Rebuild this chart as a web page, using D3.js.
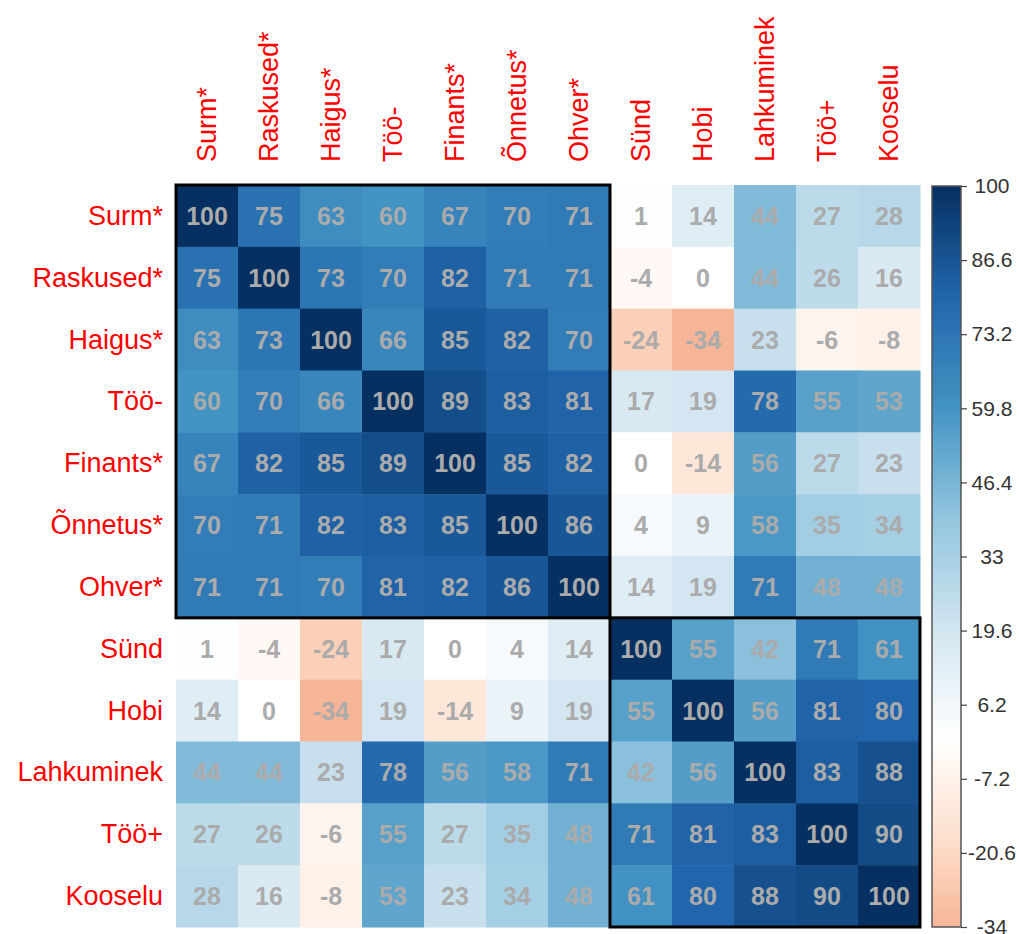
<!DOCTYPE html>
<html>
<head>
<meta charset="utf-8">
<script src="https://cdn.jsdelivr.net/npm/d3@7"></script>
<style>
  html, body { margin: 0; padding: 0; background: #ffffff; }
  svg { display: block; font-family: "Liberation Sans", Arial, Helvetica, sans-serif; }
</style>
</head>
<body>
<svg id="chart" width="1019" height="934"></svg>
<script>
// Variable names (rows and columns share the same order)
const variables = ["Surm*", "Raskused*", "Haigus*", "Töö-", "Finants*", "Õnnetus*",
                   "Ohver*", "Sünd", "Hobi", "Lahkuminek", "Töö+", "Kooselu"];

// Correlation coefficients ×100, one array per row
const rowSurm       = [100, 75, 63, 60, 67, 70, 71,   1,  14,  44,  27,  28];
const rowRaskused   = [ 75,100, 73, 70, 82, 71, 71,  -4,   0,  44,  26,  16];
const rowHaigus     = [ 63, 73,100, 66, 85, 82, 70, -24, -34,  23,  -6,  -8];
const rowTooMinus   = [ 60, 70, 66,100, 89, 83, 81,  17,  19,  78,  55,  53];
const rowFinants    = [ 67, 82, 85, 89,100, 85, 82,   0, -14,  56,  27,  23];
const rowOnnetus    = [ 70, 71, 82, 83, 85,100, 86,   4,   9,  58,  35,  34];
const rowOhver      = [ 71, 71, 70, 81, 82, 86,100,  14,  19,  71,  48,  48];
const rowSund       = [  1, -4,-24, 17,  0,  4, 14, 100,  55,  42,  71,  61];
const rowHobi       = [ 14,  0,-34, 19,-14,  9, 19,  55, 100,  56,  81,  80];
const rowLahkuminek = [ 44, 44, 23, 78, 56, 58, 71,  42,  56, 100,  83,  88];
const rowTooPlus    = [ 27, 26, -6, 55, 27, 35, 48,  71,  81,  83, 100,  90];
const rowKooselu    = [ 28, 16, -8, 53, 23, 34, 48,  61,  80,  88,  90, 100];

const correlations = [rowSurm, rowRaskused, rowHaigus, rowTooMinus, rowFinants, rowOnnetus,
                      rowOhver, rowSund, rowHobi, rowLahkuminek, rowTooPlus, rowKooselu];

// Cluster blocks outlined on the diagonal (first and last variable of each)
const clusters = [["Surm*", "Ohver*"], ["Sünd", "Kooselu"]];

// Colour legend range and tick labels
const legendMin = -34, legendMax = 100;
const legendTicks = [100, 86.6, 73.2, 59.8, 46.4, 33, 19.6, 6.2, -7.2, -20.6, -34];

// Diverging red–blue palette spread over the full -100..100 range
const paletteColors = ["#67001F", "#B2182B", "#D6604D", "#F4A582", "#FDDBC7", "#FFFFFF",
                       "#D1E5F0", "#92C5DE", "#4393C3", "#2166AC", "#053061"];

const svg = d3.select("#chart");

const x = d3.scaleBand().domain(variables).range([176, 920]).padding(0);
const y = d3.scaleBand().domain(variables).range([185, 927]).padding(0);

const color = d3.scaleLinear()
  .domain(d3.range(paletteColors.length).map(i => -100 + i * 20))
  .range(paletteColors)
  .interpolate(d3.interpolateRgb);

// Flatten matrix into cells
const cells = [];
correlations.forEach((row, i) => {
  row.forEach((v, j) => cells.push({ r: variables[i], c: variables[j], v }));
});

// Heat-map cells
svg.append("g").selectAll("rect")
  .data(cells)
  .join("rect")
  .attr("x", d => x(d.c))
  .attr("y", d => y(d.r))
  .attr("width", x.bandwidth() + 0.5)
  .attr("height", y.bandwidth() + 0.5)
  .attr("fill", d => color(d.v));

// Cell values
svg.append("g").selectAll("text")
  .data(cells)
  .join("text")
  .attr("x", d => x(d.c) + x.bandwidth() / 2)
  .attr("y", d => y(d.r) + y.bandwidth() / 2)
  .attr("text-anchor", "middle")
  .attr("dominant-baseline", "central")
  .attr("font-size", 25)
  .attr("font-weight", "bold")
  .attr("fill", "#ABABAB")
  .text(d => d.v);

// Row labels
svg.append("g").selectAll("text")
  .data(variables)
  .join("text")
  .attr("x", 163)
  .attr("y", d => y(d) + y.bandwidth() / 2)
  .attr("text-anchor", "end")
  .attr("dominant-baseline", "central")
  .attr("font-size", 27)
  .attr("fill", "#FF0000")
  .text(d => d);

// Column labels, rotated
svg.append("g").selectAll("text")
  .data(variables)
  .join("text")
  .attr("transform", d => `translate(${x(d) + x.bandwidth() / 2},162) rotate(-90)`)
  .attr("text-anchor", "start")
  .attr("dominant-baseline", "central")
  .attr("font-size", 27)
  .attr("fill", "#FF0000")
  .text(d => d);

// Cluster outlines
svg.append("g").selectAll("rect")
  .data(clusters)
  .join("rect")
  .attr("x", d => x(d[0]))
  .attr("y", d => y(d[0]))
  .attr("width", d => x(d[1]) + x.bandwidth() - x(d[0]))
  .attr("height", d => y(d[1]) + y.bandwidth() - y(d[0]))
  .attr("fill", "none")
  .attr("stroke", "#000")
  .attr("stroke-width", 3);

// Colour bar
const barX = 932, barW = 29;
const ly = d3.scaleLinear().domain([legendMin, legendMax]).range([927, 186]);

const defs = svg.append("defs");
const grad = defs.append("linearGradient")
  .attr("id", "legendGradient")
  .attr("x1", 0).attr("y1", 1).attr("x2", 0).attr("y2", 0);
const stops = d3.range(0, 51).map(k => legendMin + (legendMax - legendMin) * k / 50);
grad.selectAll("stop")
  .data(stops)
  .join("stop")
  .attr("offset", d => (d - legendMin) / (legendMax - legendMin))
  .attr("stop-color", d => color(d));

svg.append("rect")
  .attr("x", barX)
  .attr("y", ly(legendMax))
  .attr("width", barW)
  .attr("height", ly(legendMin) - ly(legendMax))
  .attr("fill", "url(#legendGradient)")
  .attr("stroke", "#555")
  .attr("stroke-width", 1.5);

const legendAxis = svg.append("g")
  .attr("transform", `translate(${barX + barW},0)`)
  .call(d3.axisRight(ly).tickValues(legendTicks).tickSize(6).tickFormat(d => String(d)));
legendAxis.select(".domain").remove();
legendAxis.selectAll(".tick line").attr("stroke", "#444").attr("stroke-width", 1.2);
legendAxis.selectAll(".tick text")
  .attr("x", 31)
  .attr("text-anchor", "middle")
  .attr("font-family", "\"Liberation Sans\", Arial, Helvetica, sans-serif")
  .attr("font-size", 21)
  .attr("fill", "#333");
</script>
</body>
</html>
